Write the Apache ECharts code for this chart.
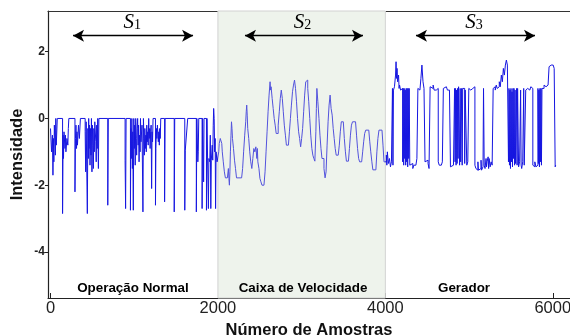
<!DOCTYPE html>
<html>
<head>
<meta charset="utf-8">
<script src="https://cdn.jsdelivr.net/npm/echarts@6.0.0/dist/echarts.min.js"></script>
<style>
  html, body { margin: 0; padding: 0; background: #fff; }
  #chart { width: 570px; height: 335px; }
</style>
</head>
<body>
<div id="chart"></div>
<script>
// ticks
var xTicks = [0, 2000, 4000, 6000];
var yTicks = [-4, -2, 0, 2];

// regions
var regionBounds = [2000, 4000];
var regionNames = ['Operação Normal', 'Caixa de Velocidade', 'Gerador'];
var regionCenters = [985, 3017, 4940];
var subscripts = ['1', '2', '3'];
var spanCenters = [975, 3011, 5059];
var arrowSpans = [[269, 1703], [2323, 3733], [4366, 5788]];

// signal: [amostra, intensidade]
var normal = [
  [0,-0.3],[12,-1.0],[23,-0.5],[29,-1.7],[35,-0.6],[40,-1.3],[46,-0.2],[58,-1.1],[63,0],[69,-0.8],[81,0],
  [144,-2.85],[150,-0.5],[155,-1.2],[161,-0.4],[173,-0.9],[178,-0.5],[184,-1.0],[196,-0.6],[207,-0.8],[213,-0.3],[219,0],
  [292,-2.2],[298,-0.6],[304,-0.2],[311,-0.9],[316,-0.4],[322,-0.8],[334,-0.2],[345,-0.6],[357,0],
  [414,-0.4],[420,-1.6],[426,-0.1],[440,-2.85],[446,-0.3],[452,-1.2],[456,0],[460,-0.9],[466,-0.2],[472,-1.4],[477,-0.3],
  [483,-1.1],[489,0],[495,-1.6],[500,-0.2],[506,-0.8],[512,-1.5],[518,-0.3],[523,-1.0],[529,-0.1],[541,-0.7],[546,-1.3],
  [552,-0.2],[558,-0.9],[564,0],[572,-1.5],[578,0],
  [684,-2.6],[690,0],
  [891,-1.25],[897,-2.7],[903,0],
  [955,-2.75],[960,-0.3],[966,-1.2],[972,0],[978,-1.5],[983,-0.4],[989,-2.75],[995,0],[1001,-0.9],[1006,-0.2],
  [1012,-1.4],[1018,0],[1024,-0.6],[1029,-1.1],[1035,-0.3],[1041,0],[1047,-0.8],[1052,-0.2],[1058,-1.3],[1064,-0.5],
  [1070,-1.0],[1075,0],[1081,-0.7],[1093,-0.2],[1104,-2.8],[1110,0],[1116,-0.6],[1121,-1.1],[1127,-0.3],[1133,-0.9],
  [1139,-0.5],[1144,-1.0],[1150,-0.2],[1156,-0.7],[1162,-0.4],[1167,-0.8],[1173,0],[1179,-0.6],[1185,-0.3],[1190,-0.9],
  [1196,-0.4],[1202,-0.2],[1208,-2.1],[1213,-0.4],[1219,-0.7],[1225,0],
  [1254,-2.6],[1259,-0.9],[1265,-0.3],[1271,-0.6],[1277,-0.2],[1288,-0.7],[1294,-0.4],[1300,-0.8],[1305,-0.3],[1311,-0.6],[1317,0],
  [1363,-2.5],[1369,0],[1478,-2.8],[1484,0],[1604,-2.75],[1610,-0.95],[1633,-0.9],[1639,0],
  [1742,-2.8],[1748,0],[1760,-1.3],[1765,-1.0],[1771,0],[1811,-2.7],[1817,0],[1829,-1.9],[1834,0],[1863,-2.75],[1869,0],
  [1886,-2.7],[1892,-1.2],[1903,-1.3],[1909,-0.5],[1915,-2.7],[1921,-1.25],[1932,-0.8],[1938,-1.25],[1944,-0.2],
  [1949,0.3],[1955,0],[1961,-1.0],[1967,-0.6],[1972,-2.7],[1978,-1.0],[1990,-1.3]
];

var gearbox = [
  [2000,-1.25],[2010,-1.0],[2016,-0.75],[2028,-0.6],[2040,-0.58],[2046,-0.75],[2052,-1.0],[2064,-1.3],[2077,-1.6],
  [2089,-1.78],[2113,-1.78],[2125,-1.5],[2131,-1.8],[2137,-2.0],[2143,-1.6],[2149,-1.0],[2156,-0.5],[2162,-0.1],
  [2168,-0.3],[2174,-0.6],[2186,-0.9],[2198,-1.25],[2210,-1.5],[2222,-1.78],[2283,-1.78],[2295,-1.5],[2307,-1.0],
  [2320,-0.5],[2332,-0.1],[2338,0.2],[2344,0.4],[2350,0.1],[2356,-0.3],[2368,-0.6],[2380,-1.0],[2392,-1.3],[2405,-1.5],
  [2417,-1.2],[2429,-0.9],[2441,-1.0],[2453,-0.85],[2465,-1.2],[2471,-0.9],[2477,-1.3],[2490,-1.5],[2502,-1.8],
  [2514,-1.9],[2526,-2.0],[2550,-2.0],[2563,-1.6],[2575,-1.0],[2587,-0.4],[2599,0.2],[2611,0.7],[2623,1.1],[2629,0.85],
  [2635,0.95],[2648,0.6],[2660,0.3],[2672,0.0],[2684,-0.2],[2696,-0.45],[2708,-0.45],[2720,-0.2],[2733,0.2],[2745,0.6],
  [2757,0.85],[2769,0.6],[2781,0.2],[2793,-0.2],[2806,-0.5],[2818,-0.8],[2842,-0.8],[2854,-0.4],[2866,0.0],[2878,0.4],
  [2891,0.8],[2903,1.0],[2915,1.15],[2927,0.9],[2939,0.5],[2951,0.0],[2964,-0.4],[2976,-0.6],[2988,-0.85],[3000,-0.6],
  [3012,-0.3],[3024,0.2],[3036,0.7],[3049,1.1],[3061,1.15],[3073,0.9],[3085,0.5],[3097,0.0],[3109,-0.5],[3122,-0.9],
  [3134,-1.1],[3146,-1.2],[3158,-1.28],[3170,-0.4],[3176,0.3],[3182,0.9],[3194,0.5],[3207,0.0],[3219,-0.5],[3231,-0.9],
  [3243,-1.2],[3267,-1.5],[3280,-1.78],[3292,-1.6],[3304,-0.8],[3316,-0.1],[3328,0.4],[3340,0.7],[3352,0.3],[3365,0.1],
  [3377,-0.3],[3389,-0.6],[3401,-0.9],[3413,-1.1],[3437,-1.1],[3450,-0.8],[3462,-0.4],[3474,-0.1],[3498,-0.1],[3510,-0.6],
  [3523,-1.0],[3535,-1.28],[3559,-1.28],[3571,-0.9],[3583,-0.5],[3595,-0.2],[3608,-0.1],[3644,-0.1],[3656,-0.5],
  [3668,-0.9],[3681,-1.2],[3693,-1.3],[3717,-1.3],[3729,-1.0],[3741,-0.7],[3753,-0.45],[3766,-0.35],[3802,-0.35],
  [3814,-0.7],[3826,-1.0],[3839,-1.3],[3851,-1.54],[3887,-1.54],[3899,-1.0],[3911,-0.6],[3924,-0.35],[3960,-0.35],
  [3972,-0.8],[3984,-1.3],[3998,-1.3]
];

var generator = [
  [4000,-1.3],[4012,-1.1],[4018,-1.4],[4024,-1.0],[4036,-1.35],[4049,-1.2],[4061,-1.45],[4073,-1.3],[4085,0.9],[4091,-1.4],
  [4097,0.85],[4109,0.95],[4122,1.3],[4128,1.7],[4134,1.2],[4140,1.5],[4146,1.1],[4158,1.3],[4164,0.9],[4170,1.0],
  [4182,0.85],[4194,0.9],[4207,-1.3],[4213,0.9],[4219,-1.4],[4225,0.9],[4231,-1.2],[4237,0.85],[4243,-1.4],[4249,0.9],
  [4255,-1.3],[4261,0.9],[4267,-1.45],[4273,0.9],[4279,-1.2],[4285,0.9],[4292,-1.4],[4304,-1.35],[4328,-1.5],[4340,-1.4],
  [4365,-1.45],[4377,-1.2],[4389,0.9],[4401,0.85],[4413,0.9],[4425,1.2],[4437,1.6],[4450,1.1],[4462,0.9],[4474,-1.3],
  [4486,-1.25],[4510,-1.35],[4522,-1.5],[4535,0.95],[4547,0.9],[4571,1.0],[4583,0.85],[4608,0.9],[4620,0.9],[4632,-1.3],
  [4644,-1.4],[4669,-1.45],[4681,-1.3],[4693,0.9],[4705,0.95],[4729,0.9],[4742,0.85],[4766,0.9],[4778,-1.45],[4790,-1.4],
  [4814,-1.45],[4827,0.9],[4833,-1.3],[4839,0.9],[4845,-1.4],[4851,0.85],[4857,-1.35],[4863,0.9],[4869,-1.2],[4875,0.95],
  [4887,-1.4],[4894,0.9],[4900,-1.3],[4912,0.9],[4918,-1.4],[4924,0.9],[4936,0.9],[4948,-1.35],[4954,0.85],[4960,0.9],
  [4973,-1.4],[4985,-1.3],[4997,0.9],[5009,0.85],[5021,0.9],[5045,0.9],[5058,0.95],[5070,-1.4],[5082,-1.5],[5094,-1.55],
  [5106,-1.3],[5112,-1.55],[5130,-1.5],[5143,-1.25],[5149,-1.55],[5167,-1.45],[5173,0.9],[5181,-1.4],[5191,-1.5],
  [5203,-1.2],[5209,-1.45],[5215,-1.3],[5228,-1.15],[5234,-1.5],[5240,-1.2],[5252,-1.45],[5264,-1.3],[5276,-1.4],
  [5288,0.9],[5300,0.95],[5313,0.85],[5325,1.0],[5337,0.9],[5349,0.95],[5361,1.1],[5373,0.95],[5386,1.3],[5398,1.1],
  [5410,1.5],[5422,1.3],[5434,1.6],[5446,1.75],[5458,1.6],[5471,-1.3],[5477,0.9],[5483,-1.4],[5489,0.85],[5495,-1.5],
  [5501,0.9],[5507,-1.3],[5513,0.8],[5519,-1.45],[5525,0.9],[5531,-1.2],[5537,0.9],[5544,-1.4],[5550,0.85],[5556,-1.35],
  [5568,0.9],[5574,-1.4],[5580,0.9],[5592,-1.45],[5604,-1.3],[5616,0.85],[5622,-1.4],[5629,-1.5],[5641,-1.3],[5653,0.9],
  [5659,-1.4],[5665,-1.35],[5677,0.85],[5689,0.9],[5701,0.95],[5714,0.85],[5726,0.9],[5738,0.95],[5750,0.9],[5762,-1.4],
  [5774,-1.45],[5786,-1.3],[5799,-1.45],[5811,-1.4],[5823,0.9],[5829,-1.35],[5835,0.85],[5841,-1.45],[5847,0.9],
  [5853,-1.3],[5859,0.9],[5865,-1.4],[5871,0.9],[5884,0.9],[5896,1.0],[5908,0.95],[5920,0.9],[5932,1.0],[5944,1.0],
  [5956,1.55],[5969,1.6],[5981,1.65],[5993,1.6],[6005,1.55],[6017,1.5],[6029,-1.45],[6035,-1.4]
];

var chart = echarts.init(document.getElementById('chart'));

var xMin = -30, xMax = 6206;
var yMin = -5.38, yMax = 3.22;
var spanY = 2.48, spanLabelY = 2.89, regionLabelY = -5.08;

var annotations = [];
for (var i = 0; i < 3; i++) {
  annotations.push({
    value: [regionCenters[i], regionLabelY],
    label: { formatter: regionNames[i], fontWeight: 'bold', fontSize: 13.4, color: '#000' }
  });
  annotations.push({
    value: [spanCenters[i], spanLabelY],
    label: {
      formatter: '{s|S}{sub|' + subscripts[i] + '}',
      rich: {
        s: { fontFamily: 'Liberation Serif', fontStyle: 'italic', fontSize: 21, color: '#000' },
        sub: { fontFamily: 'Liberation Serif', fontSize: 14, color: '#000', verticalAlign: 'bottom', padding: [6, 0, 0, 0] }
      }
    }
  });
}

var option = {
  animation: false,
  textStyle: { fontFamily: 'Liberation Sans' },
  grid: { left: 48, right: 0, top: 11, bottom: 37, outerBoundsMode: 'none', containLabel: false },
  // lighter trace inside the gearbox window, as in the picture
  visualMap: {
    show: false, type: 'piecewise', seriesIndex: 1, dimension: 0,
    pieces: [
      { lt: regionBounds[0], color: '#1515e0' },
      { gte: regionBounds[0], lt: regionBounds[1], color: '#5252dc' },
      { gte: regionBounds[1], color: '#1515e0' }
    ]
  },
  xAxis: [{
    type: 'value', min: xMin, max: xMax,
    name: 'Número de Amostras', nameLocation: 'middle', nameGap: 23,
    nameTextStyle: { fontWeight: 'bold', fontSize: 16.5, color: '#111' },
    axisLine: { onZero: false, lineStyle: { color: '#222', width: 1.2 } },
    axisTick: { inside: true, length: 5, customValues: xTicks, lineStyle: { color: '#222' } },
    axisLabel: { customValues: xTicks, fontSize: 16.5, color: '#222', margin: 2,
      formatter: function (v) { return String(v); } },
    splitLine: { show: false }
  }, {
    type: 'value', min: xMin, max: xMax, position: 'top',
    axisLine: { show: true, onZero: false, lineStyle: { color: '#333', width: 1.2 } },
    axisTick: { show: false }, axisLabel: { show: false }, splitLine: { show: false }
  }],
  yAxis: {
    type: 'value', min: yMin, max: yMax,
    name: 'Intensidade', nameLocation: 'middle', nameGap: 22, nameMoveOverlap: false,
    nameTextStyle: { fontWeight: 'bold', fontSize: 16.5, color: '#111' },
    axisLine: { show: true, onZero: false, lineStyle: { color: '#222', width: 1.2 } },
    axisTick: { show: true, length: 3, customValues: yTicks, lineStyle: { color: '#222' } },
    axisLabel: { customValues: yTicks, fontWeight: 'bold', fontSize: 12, color: '#222', margin: 3 },
    splitLine: { show: false }
  },
  series: [{
    type: 'line', data: [], z: 1, silent: true,
    markArea: {
      silent: true,
      itemStyle: { color: '#eef3ec', borderColor: '#d2d2d2', borderWidth: 1 },
      data: [[{ xAxis: regionBounds[0] }, { xAxis: regionBounds[1] }]]
    }
  }, {
    type: 'line', step: 'end', z: 2, silent: true,
    showSymbol: false, sampling: false,
    data: normal.concat(gearbox, generator),
    lineStyle: { width: 1 }
  }, {
    type: 'scatter', z: 3, silent: true, symbolSize: 0,
    itemStyle: { opacity: 1 },
    data: annotations,
    label: { show: true, position: 'inside', textBorderWidth: 0, opacity: 1 },
    markLine: {
      silent: true,
      symbol: ['arrow', 'arrow'], symbolSize: [9, 11],
      label: { show: false },
      lineStyle: { color: '#000', width: 1.4, type: 'solid' },
      data: arrowSpans.map(function (s) {
        return [{ coord: [s[0], spanY] }, { coord: [s[1], spanY] }];
      })
    }
  }]
};

chart.setOption(option);
</script>
</body>
</html>
